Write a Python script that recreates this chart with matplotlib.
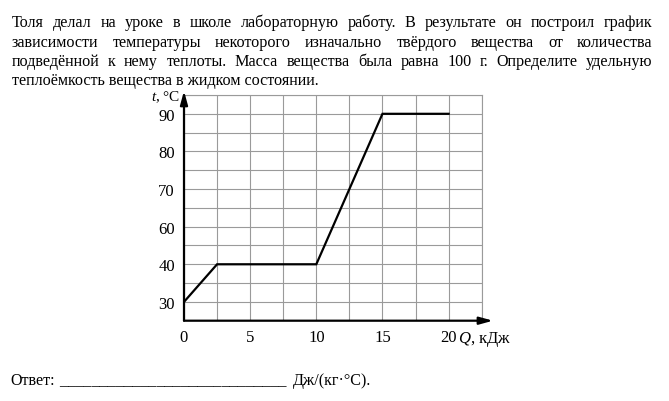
import matplotlib
matplotlib.use("Agg")
import matplotlib.pyplot as plt
import numpy as np

plt.rcParams.update({
    "font.family": ["Liberation Serif", "DejaVu Serif"],
    "mathtext.fontset": "custom",
    "mathtext.rm": "Liberation Serif",
    "mathtext.it": "Liberation Serif:italic",
})

W, H = 669, 402
TEXT_SIZE = 11.6
TICK_SIZE = 12
GRID = "#9a9a9a"

# heat supplied (kJ) and temperature (°C)
heat_kj = [0, 2.5, 10, 15, 20]
temp_c = [30, 40, 40, 90, 90]

x_ticks = [0, 5, 10, 15, 20]
x_minor = [2.5, 7.5, 12.5, 17.5, 22.5]
y_ticks = [30, 40, 60, 70, 80, 90]
y_minor = [35, 50, 65, 75, 85, 95]

PARA = [
    "Толя делал на уроке в школе лабораторную работу. В результате он построил график",
    "зависимости температуры некоторого изначально твёрдого вещества от количества",
    "подведённой к нему теплоты. Масса вещества была равна 100 г. Определите удельную",
    "теплоёмкость вещества в жидком состоянии.",
]


# the printed axis skips 50: 40 and 60 sit one grid step apart
def fwd(v):
    v = np.asarray(v, dtype=float)
    return np.where(v <= 40, v, np.where(v >= 60, v - 10, 40 + (v - 40) / 2))


def inv(p):
    p = np.asarray(p, dtype=float)
    return np.where(p <= 40, p, np.where(p >= 50, p + 10, 40 + (p - 40) * 2))


fig = plt.figure(figsize=(W / 100, H / 100), dpi=100)
ax = fig.add_axes([184 / W, 1 - 321.7 / H, 297.7 / W, 225.7 / H])

ax.set_yscale("function", functions=(fwd, inv))
ax.set_xlim(0, 22.5)
ax.set_ylim(25, 95)

ax.plot(heat_kj, temp_c, color="black", lw=1.6, solid_joinstyle="miter", zorder=3)

ax.set_xticks(x_ticks)
ax.set_xticks(x_minor, minor=True)
ax.set_yticks(y_ticks)
ax.set_yticks(y_minor, minor=True)
ax.set_xticklabels([str(v) for v in x_ticks])
ax.set_yticklabels([str(v) for v in y_ticks])
ax.set_yticklabels([], minor=True)
ax.tick_params(which="both", length=0, labelsize=TICK_SIZE)
ax.tick_params(axis="x", pad=6)
ax.tick_params(axis="y", pad=6.5)
ax.grid(which="both", color=GRID, lw=0.8)
ax.set_axisbelow(True)

for side in ("top", "right"):
    ax.spines[side].set_color(GRID)
    ax.spines[side].set_linewidth(0.8)
for side in ("left", "bottom"):
    ax.spines[side].set_visible(False)

head = dict(arrowstyle="-|>,head_length=0.8,head_width=0.22", color="black",
            lw=1.6, shrinkA=0, shrinkB=0, mutation_scale=10)
ax.annotate("", xy=(1.038, 0), xytext=(0, 0), xycoords="axes fraction",
            arrowprops=head, annotation_clip=False)
ax.annotate("", xy=(0, 1.018), xytext=(0, 0), xycoords="axes fraction",
            arrowprops=head, annotation_clip=False)

ax.annotate("$t$, °C", xy=(0, 1.018), xycoords="axes fraction",
            xytext=(-3, -6.5), textcoords="offset points",
            ha="right", va="baseline", fontsize=11, annotation_clip=False)
ax.annotate("$Q$, кДж", xy=(20, 0), xycoords=("data", "axes fraction"),
            xytext=(6.5, -6), textcoords="offset points",
            ha="left", va="top", fontsize=TICK_SIZE, annotation_clip=False)

# justified paragraph
renderer = fig.canvas.get_renderer()
LEFT, RIGHT = 12, 652.5
for i, line in enumerate(PARA):
    y = 1 - (27.3 + i * 19.3) / H
    if i == len(PARA) - 1:
        fig.text(LEFT / W, y, line, fontsize=TEXT_SIZE, va="baseline")
        continue
    words = line.split()
    arts = [fig.text(0, y, w, fontsize=TEXT_SIZE, va="baseline") for w in words]
    widths = [a.get_window_extent(renderer).width for a in arts]
    gap = (RIGHT - LEFT - sum(widths)) / (len(words) - 1)
    x = LEFT
    for a, wd in zip(arts, widths):
        a.set_x(x / W)
        x += wd + gap

fig.text(10 / W, 1 - 385 / H, "Ответ:", fontsize=TEXT_SIZE, va="baseline")
fig.text(59 / W, 1 - 385 / H, "_" * 28, fontsize=TEXT_SIZE, va="baseline")
fig.text(293 / W, 1 - 385 / H, "Дж/(кг·°С).", fontsize=TEXT_SIZE, va="baseline")

fig.savefig("out.png", dpi=100)
